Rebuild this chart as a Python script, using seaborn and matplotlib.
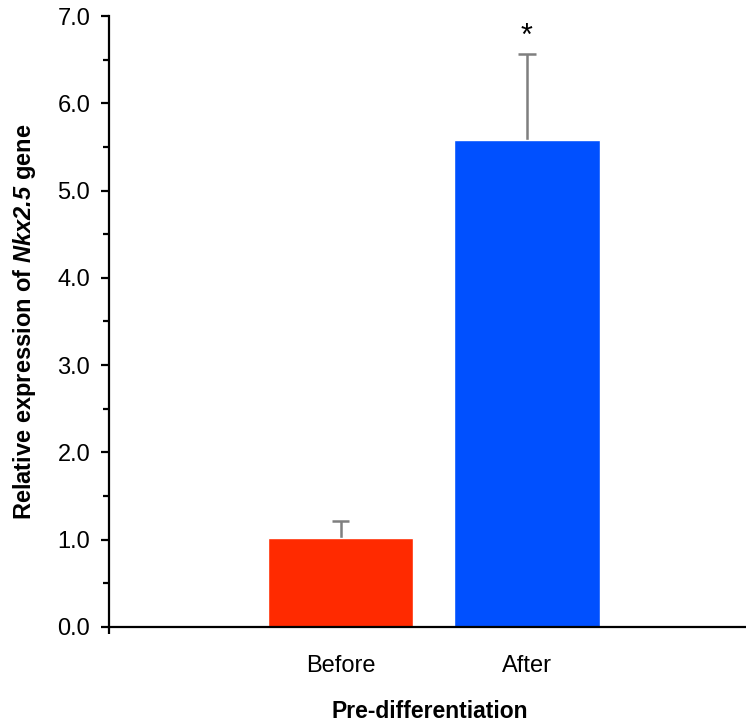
import numpy as np
import pandas as pd
import matplotlib
matplotlib.use('Agg')
import matplotlib.pyplot as plt
import seaborn as sns
from matplotlib.ticker import MultipleLocator, FormatStrFormatter

conditions = ['Before', 'After']
means = [1.02, 5.58]
errors = [0.19, 0.99]
colors = ['#FF2A00', '#0050FF']
significance = ['', '*']

sns.set_style('ticks')
plt.rcParams['font.family'] = ['Liberation Sans', 'DejaVu Sans']
plt.rcParams['text.color'] = 'black'
plt.rcParams['axes.labelcolor'] = 'black'
plt.rcParams['axes.edgecolor'] = 'black'
plt.rcParams['xtick.color'] = 'black'
plt.rcParams['ytick.color'] = 'black'
plt.rcParams['mathtext.fontset'] = 'custom'
plt.rcParams['mathtext.rm'] = 'Liberation Sans:italic:bold'
plt.rcParams['mathtext.it'] = 'Liberation Sans:italic:bold'
plt.rcParams['mathtext.bf'] = 'Liberation Sans:italic:bold'

df = pd.DataFrame({'condition': conditions, 'mean': means, 'err': errors})

fig = plt.figure(figsize=(7.46, 7.28), dpi=100)
ax = fig.add_axes([0.146, 0.139, 0.86, 0.839])

sns.barplot(data=df, x='condition', y='mean', hue='condition', palette=colors,
            width=0.78, legend=False, ax=ax, saturation=1, errorbar=None, zorder=2)

# upper error bars only (stem + cap)
xpos = np.arange(len(conditions))
tops = df['mean'] + df['err']
ax.vlines(xpos, df['mean'], tops, color='#7f7f7f', linewidth=1.8, zorder=1)
ax.hlines(tops, xpos - 0.047, xpos + 0.047, color='#7f7f7f', linewidth=1.8, zorder=1)
for x, t, s in zip(xpos, tops, significance):
    if s:
        ax.text(x, t + 0.02, s, ha='center', va='bottom', fontsize=22)

ax.set_ylim(0, 7)
ax.set_xlim(-1.243, 2.2)
ax.yaxis.set_major_locator(MultipleLocator(1))
ax.yaxis.set_minor_locator(MultipleLocator(0.5))
ax.yaxis.set_major_formatter(FormatStrFormatter('%.1f'))

for side in ['top', 'right']:
    ax.spines[side].set_visible(False)
ax.spines['left'].set_linewidth(1.6)
ax.spines['bottom'].set_linewidth(1.6)

ax.tick_params(axis='y', which='major', length=5.5, width=1.6, pad=8, labelsize=17)
ax.tick_params(axis='y', which='minor', length=4, width=1.6)
ax.tick_params(axis='x', which='major', length=0, pad=20, labelsize=17)
ax.set_xticks([-1.243], minor=True)
ax.tick_params(axis='x', which='minor', length=5, width=1.6)

ax.set_xlabel('Pre-differentiation', fontsize=16.5, fontweight='bold', labelpad=17)
ax.set_ylabel(r'Relative expression of $Nkx2.5$ gene', fontsize=17,
              fontweight='bold', labelpad=14)

fig.savefig('out.png', dpi=100)
